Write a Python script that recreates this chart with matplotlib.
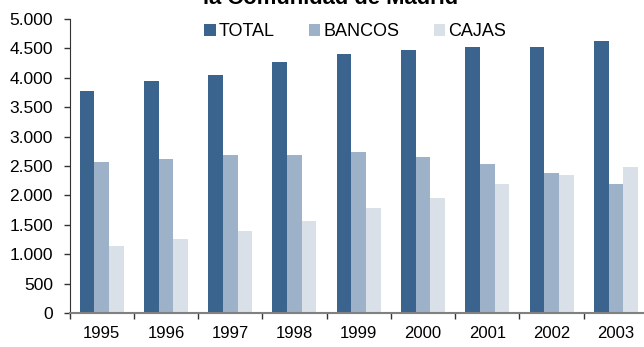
import numpy as np
import matplotlib
matplotlib.use('Agg')
import matplotlib.pyplot as plt
from matplotlib.patches import Patch

plt.rcParams['font.family'] = ['Liberation Sans', 'DejaVu Sans']

# Data
years = ['1995', '1996', '1997', '1998', '1999', '2000', '2001', '2002', '2003']
total = [3770, 3950, 4055, 4270, 4410, 4480, 4530, 4530, 4630]
bancos = [2575, 2625, 2695, 2680, 2735, 2650, 2530, 2380, 2195]
cajas = [1140, 1255, 1395, 1565, 1785, 1955, 2190, 2340, 2480]

series = [('TOTAL', total, '#3a638e'),
          ('BANCOS', bancos, '#9db2c8'),
          ('CAJAS', cajas, '#d9e0e8')]

W, H = 644, 347
fig = plt.figure(figsize=(W / 100, H / 100), dpi=100)
ax = fig.add_axes([69.5 / W, (H - 313) / H, (648 - 69.5) / W, 294 / H])

x = np.arange(len(years))
bw = 0.228
for i, (name, vals, col) in enumerate(series):
    ax.bar(x + (i - 1) * bw, vals, width=bw, color=col, label=name, zorder=2)

ax.set_xlim(-0.5, len(years) - 0.5)
ax.set_ylim(0, 5000)
ax.set_yticks(np.arange(0, 5001, 500))
ax.set_yticklabels([f'{v:,}'.replace(',', '.') for v in range(0, 5001, 500)], fontsize=12.5)

ax.set_xticks(x)
ax.set_xticklabels(years, fontsize=12)
ax.set_xticks(np.arange(-0.5, len(years), 1), minor=True)
ax.tick_params(axis='x', which='major', length=0, pad=9)
ax.tick_params(axis='x', which='minor', length=4, width=1, color='#333333', direction='out')
ax.tick_params(axis='y', length=4, width=1, color='#333333', direction='out', pad=8)

for s in ['top', 'right']:
    ax.spines[s].set_visible(False)
ax.spines['left'].set_color('#333333')
ax.spines['bottom'].set_color('#808080')
ax.spines['bottom'].set_linewidth(1.5)

handles = [Patch(facecolor=c, label=n) for n, _, c in series]
fig.legend(handles=handles, loc='center left', bbox_to_anchor=(204 / W, 1 - 32 / H),
           ncol=3, frameon=False, fontsize=13, handlelength=0.65, handleheight=0.65,
           handletextpad=0.15, columnspacing=1.9, borderpad=0, borderaxespad=0)

fig.text(331 / W, 1 - 3.5 / H, 'la Comunidad de Madrid', ha='center', va='baseline',
         fontsize=15.8, fontweight='bold')

fig.savefig('out.png', dpi=100)
